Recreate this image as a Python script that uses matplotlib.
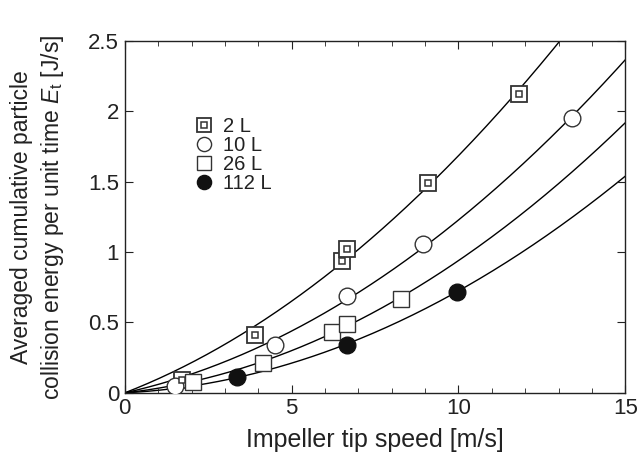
import numpy as np
import matplotlib
matplotlib.use("Agg")
import matplotlib.pyplot as plt
from matplotlib.lines import Line2D
from matplotlib.legend_handler import HandlerTuple

plt.rcParams['font.family'] = ['Liberation Sans', 'DejaVu Sans']
plt.rcParams['mathtext.fontset'] = 'custom'
plt.rcParams['mathtext.rm'] = 'Liberation Sans'
plt.rcParams['mathtext.it'] = 'Liberation Sans:italic'

# data
labels = ['2 L', '10 L', '26 L', '112 L']
v_2L = [1.7, 3.9, 6.5, 6.65, 9.1, 11.8]
e_2L = [0.09, 0.41, 0.94, 1.02, 1.49, 2.12]
v_10L = [1.5, 4.5, 6.65, 8.95, 13.4]
e_10L = [0.05, 0.34, 0.69, 1.06, 1.95]
v_26L = [2.05, 4.15, 6.2, 6.65, 8.28]
e_26L = [0.08, 0.21, 0.43, 0.49, 0.67]
v_112L = [3.35, 6.65, 9.95]
e_112L = [0.115, 0.34, 0.72]

fig = plt.figure(figsize=(6.4, 4.66), dpi=100)
ax = fig.add_axes([0.195, 0.157, 0.782, 0.755])

ink = '#222222'
vv = np.linspace(0, 15, 300)
for v, e in [(v_2L, e_2L), (v_10L, e_10L), (v_26L, e_26L), (v_112L, e_112L)]:
    # least-squares fit E = a*v + c*v^2 through the origin
    v = np.array(v)
    A = np.column_stack([v, v ** 2])
    (a, c), *_ = np.linalg.lstsq(A, np.array(e), rcond=None)
    ax.plot(vv, a * vv + c * vv ** 2, color='black', lw=1.0, zorder=1)

ms_sq, ms_in, ms_o = 11.5, 5, 12
ax.plot(v_2L, e_2L, 's', ms=ms_sq, mfc='white', mec='#333333', mew=1.3, ls='none', zorder=3)
ax.plot(v_2L, e_2L, 's', ms=ms_in, mfc='white', mec='#333333', mew=1.1, ls='none', zorder=4)
ax.plot(v_10L, e_10L, 'o', ms=ms_o, mfc='white', mec='#333333', mew=1.0, ls='none', zorder=3)
ax.plot(v_26L, e_26L, 's', ms=ms_sq, mfc='white', mec='#333333', mew=1.0, ls='none', zorder=3)
ax.plot(v_112L, e_112L, 'o', ms=ms_o, mfc='#111111', mec='#111111', ls='none', zorder=3)

lm = 0.85
h2 = (Line2D([], [], marker='s', ms=ms_sq * lm, mfc='white', mec='#333333', mew=1.3, ls='none'),
      Line2D([], [], marker='s', ms=ms_in * lm, mfc='white', mec='#333333', mew=1.1, ls='none'))
h10 = Line2D([], [], marker='o', ms=ms_o * lm, mfc='white', mec='#333333', mew=1.0, ls='none')
h26 = Line2D([], [], marker='s', ms=ms_sq * lm, mfc='white', mec='#333333', mew=1.0, ls='none')
h112 = Line2D([], [], marker='o', ms=ms_o * lm, mfc='#111111', mec='#111111', ls='none')
ax.legend([h2, h10, h26, h112], labels, handler_map={tuple: HandlerTuple(ndivide=1, pad=0)},
          loc='upper left', bbox_to_anchor=(0.137, 0.785), frameon=False, fontsize=14.5,
          handlelength=1.1, handletextpad=0.35, labelspacing=0.0, borderaxespad=0,
          borderpad=0, labelcolor=ink)

ax.set_xlim(0, 15)
ax.set_ylim(0, 2.5)
ax.set_xticks([0, 5, 10, 15])
ax.set_xticks(np.arange(0, 16, 1), minor=True)
ax.set_yticks([0, 0.5, 1, 1.5, 2, 2.5])
ax.set_yticklabels(['0', '0.5', '1', '1.5', '2', '2.5'])
ax.tick_params(which='both', direction='in', top=True, right=True, labelsize=16, colors=ink, pad=4)
ax.tick_params(which='major', length=6)
ax.tick_params(which='minor', length=3.5)
for s in ax.spines.values():
    s.set_linewidth(1.0)
    s.set_color(ink)

ax.set_xlabel('Impeller tip speed [m/s]', fontsize=18, color=ink, labelpad=6)
ax.set_ylabel('Averaged cumulative particle\ncollision energy per unit time $E_\\mathrm{t}$ [J/s]',
              fontsize=16.5, color=ink, labelpad=16, linespacing=1.3)

fig.savefig('out.png', dpi=100, facecolor='white')
